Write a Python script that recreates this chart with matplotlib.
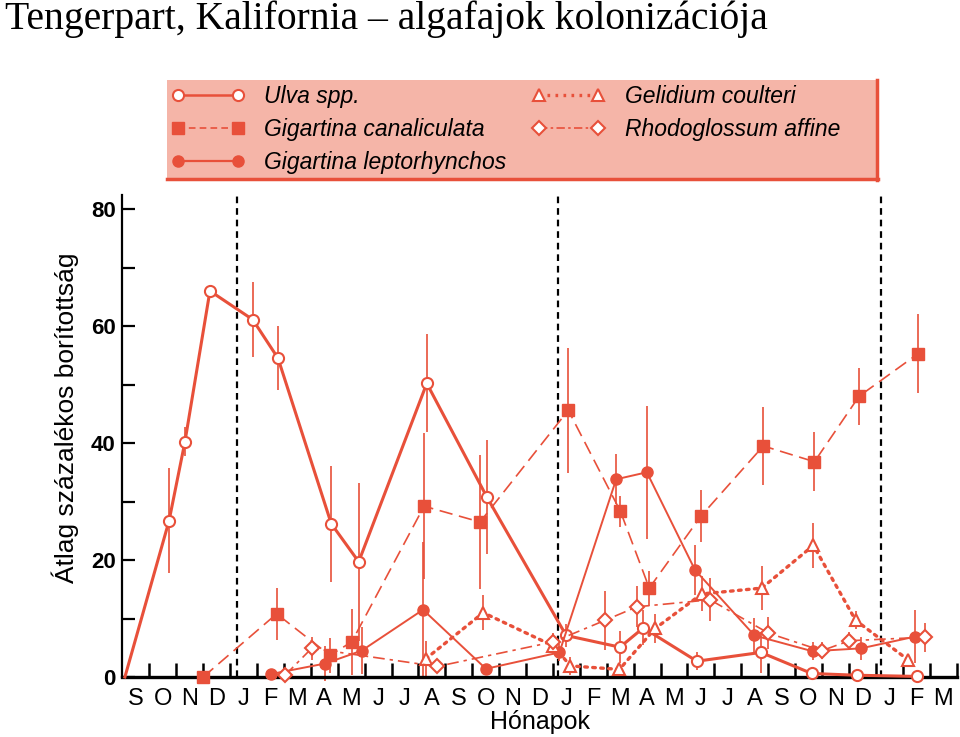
import numpy as np
import matplotlib
matplotlib.use('Agg')
import matplotlib.pyplot as plt
from matplotlib.lines import Line2D
from matplotlib.patches import Rectangle

# x in months from the start of September (0 = 1 Sep of year 1)
months = ['S', 'O', 'N', 'D', 'J', 'F', 'M', 'A', 'M', 'J', 'J', 'A', 'S', 'O', 'N', 'D',
          'J', 'F', 'M', 'A', 'M', 'J', 'J', 'A', 'S', 'O', 'N', 'D', 'J', 'F', 'M']
year_lines = [4.25, 16.2, 28.2]

ulva_x = [0.09, 1.73, 2.32, 3.25, 4.84, 5.78, 7.76, 8.78, 11.31, 13.54, 16.49, 18.49, 19.36, 21.35, 23.73, 25.62, 27.29, 29.52]
ulva_y = [0.0, 26.7, 40.2, 66.0, 61.1, 54.5, 26.2, 19.7, 50.2, 30.8, 7.1, 5.1, 8.4, 2.7, 4.2, 0.6, 0.3, 0.1]
ulva_e = [0.0, 9.0, 2.5, 0.0, 6.4, 5.5, 9.9, 13.5, 8.4, 9.8, 2.0, 2.7, 3.0, 1.5, 3.5, 0.5, 0.0, 0.0]

cana_x = [3.0, 5.73, 7.71, 8.52, 11.21, 13.29, 16.57, 18.51, 19.58, 21.5, 23.82, 25.72, 27.38, 29.58]
cana_y = [0.0, 10.8, 3.7, 6.0, 29.2, 26.5, 45.6, 28.3, 15.2, 27.5, 39.5, 36.8, 48.0, 55.3]
cana_e = [0.0, 4.4, 3.0, 5.7, 12.5, 11.5, 10.7, 2.7, 3.0, 4.5, 6.6, 5.0, 4.9, 6.8]

lept_x = [5.51, 7.53, 8.89, 11.17, 13.51, 16.24, 18.35, 19.49, 21.28, 23.49, 25.65, 27.45, 29.46]
lept_y = [0.5, 2.3, 4.5, 11.5, 1.4, 4.2, 33.8, 35.0, 18.3, 7.1, 4.4, 4.9, 6.9]
lept_e = [0.0, 3.0, 4.0, 11.5, 0.0, 1.5, 4.3, 11.4, 4.3, 3.0, 1.5, 2.0, 4.5]

geli_x = [11.27, 13.41, 16.02, 16.65, 18.47, 19.8, 21.53, 23.76, 25.68, 27.25, 29.21]
geli_y = [3.1, 11.0, 5.3, 1.9, 1.3, 8.3, 14.2, 15.2, 22.5, 9.7, 2.9]
geli_e = [3.0, 3.0, 0.0, 1.5, 1.0, 2.5, 3.0, 3.8, 3.8, 1.5, 1.0]

rhod_x = [6.04, 7.03, 11.7, 16.01, 17.94, 19.12, 21.84, 24.01, 25.99, 27.02, 29.83]
rhod_y = [0.3, 4.9, 1.8, 6.0, 9.7, 12.0, 13.2, 7.5, 4.5, 6.2, 6.8]
rhod_e = [0.0, 2.0, 1.0, 1.5, 5.0, 3.5, 3.7, 2.7, 1.5, 1.5, 2.5]

RED = '#e8503a'
sans = ['Liberation Sans', 'DejaVu Sans']
narrow = ['Liberation Sans Narrow', 'Liberation Sans', 'DejaVu Sans']

fig = plt.figure(figsize=(9.6, 7.37), dpi=100)
ax = fig.add_axes([122.5 / 960, 60 / 737, 834 / 960, 482 / 737])

# error bars first, markers on top
for xs, ys, es in [(ulva_x, ulva_y, ulva_e), (cana_x, cana_y, cana_e), (lept_x, lept_y, lept_e),
                   (geli_x, geli_y, geli_e), (rhod_x, rhod_y, rhod_e)]:
    ax.errorbar(xs, ys, yerr=es, fmt='none', ecolor=RED, elinewidth=1.2, capsize=0,
                clip_on=False, zorder=2)

ax.plot(ulva_x, ulva_y, color=RED, lw=2.2, marker='o', ms=8, mfc='white', mec=RED, mew=1.5,
        markevery=list(range(1, len(ulva_x))), clip_on=False, zorder=4)
ax.plot(cana_x, cana_y, color=RED, lw=1.2, ls=(0, (8, 4)), marker='s', ms=8, mfc=RED, mec=RED,
        clip_on=False, zorder=4)
ax.plot(lept_x, lept_y, color=RED, lw=1.4, marker='o', ms=8, mfc=RED, mec=RED,
        clip_on=False, zorder=4)
ax.plot(geli_x, geli_y, color=RED, lw=2.4, ls=(0, (0.8, 1.6)), dash_capstyle='round',
        marker='^', ms=9, mfc='white', mec=RED, mew=1.5, clip_on=False, zorder=4)
ax.plot(rhod_x, rhod_y, color=RED, lw=1.2, ls=(0, (7, 3, 2, 3)), marker='D', ms=7.5,
        mfc='white', mec=RED, mew=1.5, clip_on=False, zorder=4)

for xv in year_lines:
    ax.axvline(xv, color='black', lw=1.6, dashes=(3, 2.2), zorder=1)

ax.set_xlim(0, 31)
ax.set_ylim(0, 82.4)
ax.spines['top'].set_visible(False)
ax.spines['right'].set_visible(False)
ax.spines['left'].set_linewidth(1.6)
ax.spines['bottom'].set_linewidth(2.4)

ax.set_xticks(np.arange(1, 32))
ax.set_xticklabels([])
ax.set_xticks(np.arange(0.5, 31), minor=True)
ax.set_xticklabels(months, minor=True, family=narrow, fontsize=17)
ax.tick_params(axis='x', which='major', direction='in', length=10, width=1.8)
ax.tick_params(axis='x', which='minor', length=0, pad=8)

ax.set_yticks([0, 20, 40, 60, 80])
ax.set_yticklabels(['0', '20', '40', '60', '80'], family=sans, fontsize=16, fontweight='bold')
ax.set_yticks([10, 30, 50, 70], minor=True)
ax.tick_params(axis='y', which='both', direction='in', length=9, width=1.6, pad=5)

ax.set_xlabel('Hónapok', family=sans, fontsize=18, labelpad=0)
ax.set_ylabel('Átlag százalékos borítottság', family=sans, fontsize=19)
ax.yaxis.set_label_coords(-0.052, 0.537)

# legend panel
fig.patches.append(Rectangle((167 / 960, (737 - 180) / 737), 711 / 960, 100 / 737,
                             transform=fig.transFigure, facecolor='#f5b5a8', edgecolor='none', zorder=0))
fig.lines.append(Line2D([167 / 960, 878 / 960], [(737 - 179) / 737] * 2, transform=fig.transFigure,
                        color=RED, lw=2.5))
fig.lines.append(Line2D([877 / 960] * 2, [(737 - 80) / 737, (737 - 180) / 737], transform=fig.transFigure,
                        color=RED, lw=2.5))

handles = [
    Line2D([], [], color=RED, lw=1.8, marker='o', ms=8, mfc='white', mec=RED, mew=1.5),
    Line2D([], [], color=RED, lw=1.2, ls=(0, (4, 2.5)), marker='s', ms=8, mfc=RED, mec=RED),
    Line2D([], [], color=RED, lw=1.6, marker='o', ms=8, mfc=RED, mec=RED),
    Line2D([], [], color=RED, lw=2.4, ls=(0, (0.8, 1.6)), marker='^', ms=9, mfc='white', mec=RED, mew=1.5),
    Line2D([], [], color=RED, lw=1.2, ls=(0, (5, 2, 1.5, 2)), marker='D', ms=7.5, mfc='white', mec=RED, mew=1.5),
]
labels = ['Ulva spp.', 'Gigartina canaliculata', 'Gigartina leptorhynchos',
          'Gelidium coulteri', 'Rhodoglossum affine']
fig.legend(handles, labels, loc='upper left', bbox_to_anchor=(168 / 960, (737 - 82) / 737),
           ncol=2, frameon=False, numpoints=2, handlelength=3.2, handletextpad=0.85,
           columnspacing=1.1, labelspacing=0.42, borderaxespad=0, borderpad=0.15,
           prop={'family': sans, 'style': 'italic', 'size': 16.5})

fig.text(0.005, 0.999, 'Tengerpart, Kalifornia – algafajok kolonizációja', ha='left', va='top',
         family=['Liberation Serif', 'DejaVu Serif'], fontsize=28.5)

plt.savefig('out.png', dpi=100)
